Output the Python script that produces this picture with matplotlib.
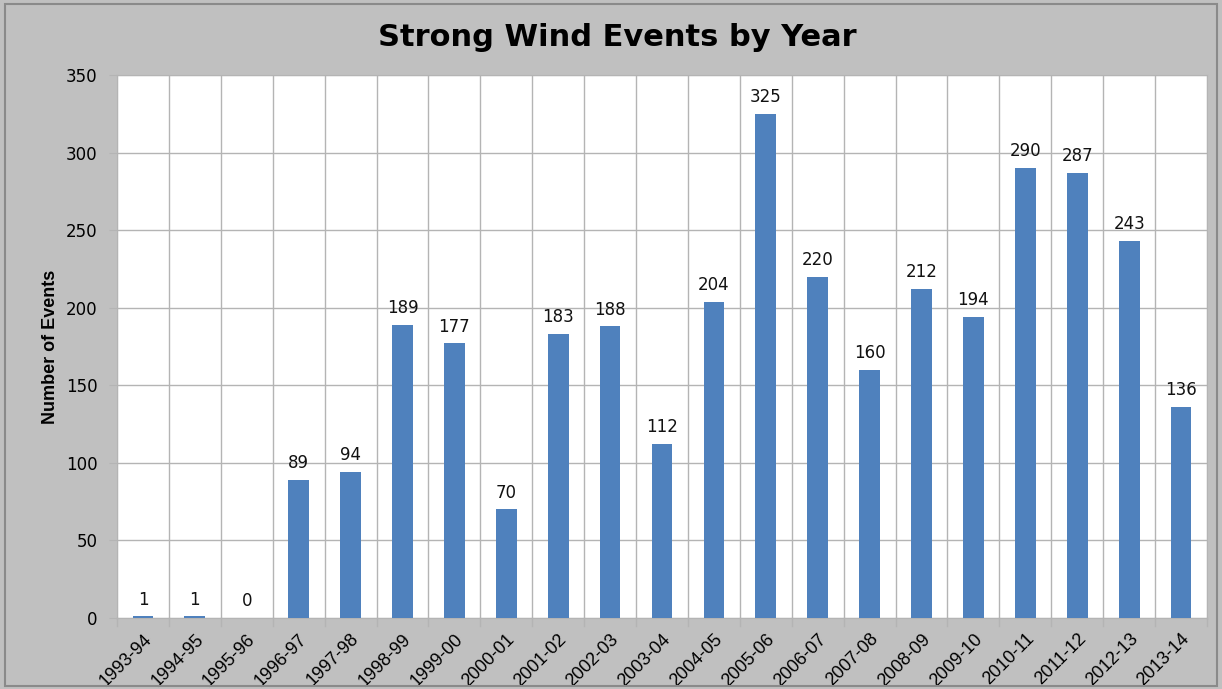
import numpy as np
import matplotlib
matplotlib.use("Agg")
import matplotlib.pyplot as plt
from matplotlib.patches import Rectangle

seasons = ["1993-94", "1994-95", "1995-96", "1996-97", "1997-98", "1998-99", "1999-00",
           "2000-01", "2001-02", "2002-03", "2003-04", "2004-05", "2005-06", "2006-07",
           "2007-08", "2008-09", "2009-10", "2010-11", "2011-12", "2012-13", "2013-14"]
events = [1, 1, 0, 89, 94, 189, 177, 70, 183, 188, 112, 204, 325, 220, 160, 212, 194,
          290, 287, 243, 136]
y_ticks = [0, 50, 100, 150, 200, 250, 300, 350]

BG = "#c0c0c0"
BAR = "#4f81bd"
GRID = "#b4b4b4"

fig = plt.figure(figsize=(12.22, 6.89), dpi=100, facecolor=BG)
fig.patches.append(Rectangle((0.004, 0.004), 0.992, 0.99, transform=fig.transFigure,
                             fill=False, edgecolor="#8a8a8a", lw=1.5))
ax = fig.add_axes([117/1222, 1 - 618/689, (1207 - 117)/1222, (618 - 75)/689])
ax.set_facecolor("white")

x = np.arange(len(seasons))
ax.bar(x, events, width=0.4, color=BAR, zorder=3)
for xi, v in zip(x, events):
    ax.text(xi, v + 5, str(v), ha="center", va="bottom", fontsize=12,
            family="DejaVu Sans", color="#111111", zorder=4)

ax.set_xlim(-0.5, len(seasons) - 0.5)
ax.set_ylim(0, 350)
ax.set_yticks(y_ticks)
ax.set_yticklabels([str(t) for t in y_ticks], fontsize=12, family="DejaVu Sans")
ax.set_xticks(x)
ax.set_xticklabels(seasons, rotation=45, ha="right", rotation_mode="anchor",
                   fontsize=13, family="Liberation Sans")
ax.tick_params(axis="x", length=0, pad=9)
ax.tick_params(axis="y", length=6, color=GRID, pad=8)

# category boundaries: vertical gridlines + outward ticks below the axis
bounds = np.arange(-0.5, len(seasons), 1.0)
for b in bounds:
    ax.axvline(b, color=GRID, lw=1, zorder=1)
    ax.plot([b, b], [0, -5], color=GRID, lw=1, clip_on=False, zorder=1)
for t in y_ticks:
    ax.axhline(t, color=GRID, lw=1, zorder=1)

for s in ax.spines.values():
    s.set_color(GRID)

ax.set_ylabel("Number of Events", fontsize=13, fontweight="bold",
              family="Liberation Sans", labelpad=5)
fig.text(0.505, 0.946, "Strong Wind Events by Year", ha="center", va="center",
         fontsize=22, fontweight="bold", family="DejaVu Sans")

fig.savefig("out.png", dpi=100, facecolor=BG)
